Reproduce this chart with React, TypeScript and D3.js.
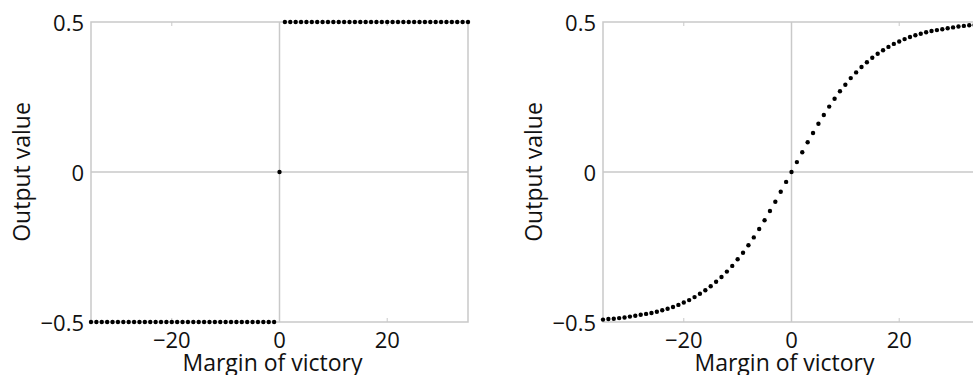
import React from "react";
import * as d3 from "d3";

const margins = d3.range(-35, 36);
const stepValues = [
  -0.5, -0.5, -0.5, -0.5, -0.5, -0.5, -0.5, -0.5, -0.5, -0.5,
  -0.5, -0.5, -0.5, -0.5, -0.5, -0.5, -0.5, -0.5, -0.5, -0.5,
  -0.5, -0.5, -0.5, -0.5, -0.5, -0.5, -0.5, -0.5, -0.5, -0.5,
  -0.5, -0.5, -0.5, -0.5, -0.5,
  0,
  0.5, 0.5, 0.5, 0.5, 0.5, 0.5, 0.5, 0.5, 0.5, 0.5,
  0.5, 0.5, 0.5, 0.5, 0.5, 0.5, 0.5, 0.5, 0.5, 0.5,
  0.5, 0.5, 0.5, 0.5, 0.5, 0.5, 0.5, 0.5, 0.5, 0.5,
  0.5, 0.5, 0.5, 0.5, 0.5,
];
const smoothNegative = [
  -0.492, -0.490, -0.489, -0.487, -0.485, -0.482, -0.479, -0.476, -0.473, -0.470,
  -0.466, -0.461, -0.456, -0.450, -0.443, -0.435, -0.427, -0.417, -0.406, -0.394,
  -0.381, -0.366, -0.350, -0.332, -0.313, -0.291, -0.269, -0.244, -0.218, -0.190,
  -0.161, -0.130, -0.099, -0.066, -0.033,
];
const smoothPositive = [
  0, 0.033, 0.066, 0.099, 0.130, 0.161, 0.190, 0.218, 0.244, 0.269,
  0.291, 0.313, 0.332, 0.350, 0.366, 0.381, 0.394, 0.406, 0.417, 0.427,
  0.435, 0.443, 0.450, 0.456, 0.461, 0.466, 0.470, 0.473, 0.476, 0.479,
  0.482, 0.485, 0.487, 0.489, 0.490, 0.492,
];
const smoothValues = [...smoothNegative, ...smoothPositive];
const xTicks = [-20, 0, 20];
const yTicks = [-0.5, 0, 0.5];
const xLabel = "Margin of victory";
const yLabel = "Output value";

const W = 973;
const H = 375;
const FONT = "'Open Sans', 'DejaVu Sans', sans-serif";
const GRAY = "#c9c9c9";
const INK = "#111";

function fmt(v: number) {
  return (v < 0 ? "\u2212" : "") + String(Math.abs(v));
}

function Panel({ left, values }: { left: number; values: number[] }) {
  const x = d3.scaleLinear().domain([-35, 35]).range([left, left + 377]);
  const y = d3.scaleLinear().domain([-0.5, 0.5]).range([322, 22]);
  const [x0, x1] = x.range();
  const [y0, y1] = y.range();
  return (
    <g>
      <rect x={x0} y={y1} width={x1 - x0} height={y0 - y1} fill="none" stroke={GRAY} strokeWidth={1.5} />
      <line x1={x(0)} x2={x(0)} y1={y1} y2={y0} stroke={GRAY} strokeWidth={1.5} />
      <line x1={x0} x2={x1} y1={y(0)} y2={y(0)} stroke={GRAY} strokeWidth={1.5} />
      {xTicks.map((t) => (
        <g key={"xt" + t}>
          <line x1={x(t)} x2={x(t)} y1={y0} y2={y0 - 4} stroke={GRAY} strokeWidth={1} />
          <line x1={x(t)} x2={x(t)} y1={y1} y2={y1 + 4} stroke={GRAY} strokeWidth={1} />
          <text x={x(t)} y={y0 + 26} textAnchor="middle" fontSize={22} fontFamily={FONT} fill={INK}>
            {fmt(t)}
          </text>
        </g>
      ))}
      {yTicks.map((t) => (
        <text key={"yt" + t} x={x0 - 7} y={y(t) + 9} textAnchor="end" fontSize={22} fontFamily={FONT} fill={INK}>
          {fmt(t)}
        </text>
      ))}
      <text x={x(0) - 7} y={371} textAnchor="middle" fontSize={23} fontFamily={FONT} fill={INK}>
        {xLabel}
      </text>
      <text
        transform={`translate(${x0 - 61},${y(0)}) rotate(-90)`}
        textAnchor="middle"
        fontSize={23}
        fontFamily={FONT}
        fill={INK}
      >
        {yLabel}
      </text>
      {margins.map((m, i) => (
        <circle key={i} cx={x(m)} cy={y(values[i])} r={2.2} fill="#000" />
      ))}
    </g>
  );
}

export default function App() {
  return (
    <svg
      width={W}
      height={H}
      style={{ position: "absolute", left: 0, top: 0, background: "#fff" }}
    >
      <rect width={W} height={H} fill="#fff" />
      <Panel left={91} values={stepValues} />
      <Panel left={603} values={smoothValues} />
    </svg>
  );
}
